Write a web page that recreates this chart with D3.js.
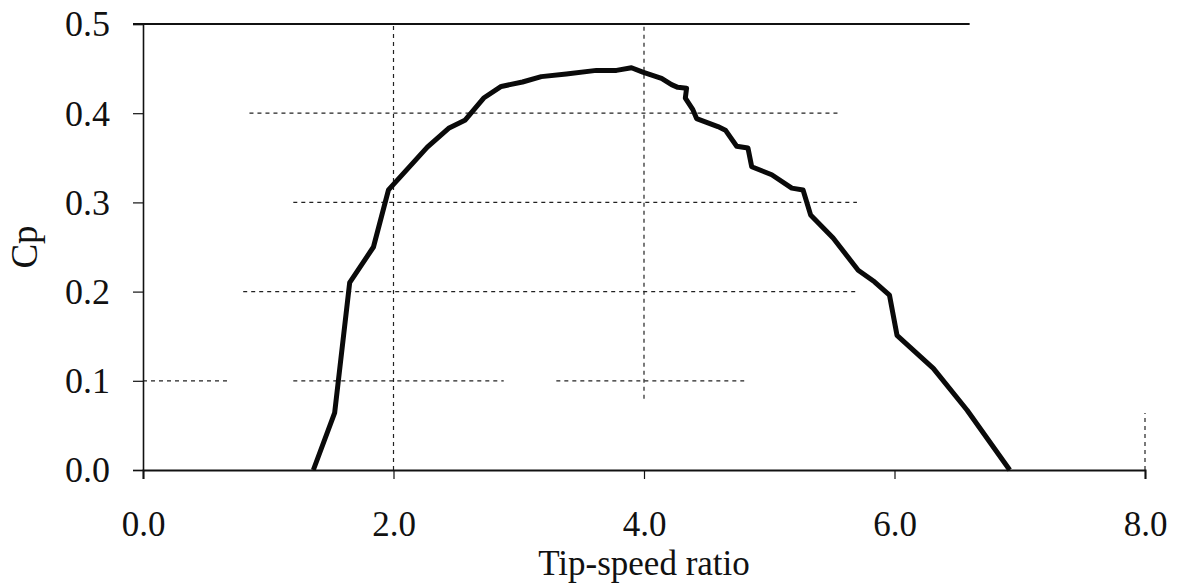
<!DOCTYPE html>
<html>
<head>
<meta charset="utf-8">
<script src="https://cdn.jsdelivr.net/npm/d3@7"></script>
<style>
    body { margin: 0; background: #fff; }
    svg text { font-family: "Liberation Serif", "Times New Roman", serif; fill: #111; }
</style>
</head>
<body>
<svg id="chart" width="1182" height="583"></svg>
<script>
// tip-speed ratio vs Cp
const tsr = [1.36, 1.53, 1.65, 1.84, 1.96, 2.27, 2.44, 2.57, 2.72, 2.86, 3.03, 3.18, 3.38, 3.62, 3.78, 3.90,
    3.99, 4.14, 4.22, 4.27, 4.34, 4.33, 4.39, 4.42, 4.59, 4.65, 4.74, 4.83, 4.86, 5.02, 5.18, 5.27,
    5.33, 5.51, 5.71, 5.84, 5.96, 6.02, 6.31, 6.58, 6.92];
const cp = [0.000, 0.064, 0.210, 0.250, 0.314, 0.362, 0.383, 0.392, 0.417, 0.430, 0.435, 0.441, 0.444, 0.448, 0.448, 0.451,
    0.446, 0.439, 0.432, 0.429, 0.428, 0.417, 0.404, 0.394, 0.385, 0.381, 0.363, 0.361, 0.340, 0.331, 0.316, 0.314,
    0.286, 0.260, 0.224, 0.211, 0.196, 0.151, 0.114, 0.067, 0.000];

const xTicks = [0, 2, 4, 6, 8];
const yTicks = [0, 0.1, 0.2, 0.3, 0.4, 0.5];

// the gridlines only survive in pieces in the scan
const hGrid = [
    { y: 0.1, from: 0.0, to: 0.7 },
    { y: 0.1, from: 1.2, to: 2.88 },
    { y: 0.1, from: 3.3, to: 4.8 },
    { y: 0.2, from: 0.8, to: 5.7 },
    { y: 0.3, from: 1.2, to: 5.7 },
    { y: 0.4, from: 0.85, to: 5.56 }
];
const vGrid = [
    { x: 2, from: 0, to: 0.5 },
    { x: 4, from: 0.08, to: 0.5 },
    { x: 8, from: 0, to: 0.064 }
];

const svg = d3.select("#chart");
const margin = { top: 24, right: 37, bottom: 113, left: 143 };
const width = 1182 - margin.left - margin.right;
const height = 583 - margin.top - margin.bottom;

const x = d3.scaleLinear().domain([0, 8]).range([0, width]);
const y = d3.scaleLinear().domain([0, 0.5]).range([height, 0]);

const g = svg.append("g").attr("transform", `translate(${margin.left},${margin.top})`);

const grid = g.append("g")
    .attr("stroke", "#222")
    .attr("stroke-width", 1.2)
    .attr("stroke-dasharray", "4,4");

grid.selectAll(".hg")
    .data(hGrid)
    .enter().append("line")
    .attr("x1", d => x(d.from))
    .attr("x2", d => x(d.to))
    .attr("y1", d => y(d.y))
    .attr("y2", d => y(d.y));

grid.selectAll(".vg")
    .data(vGrid)
    .enter().append("line")
    .attr("x1", d => x(d.x))
    .attr("x2", d => x(d.x))
    .attr("y1", d => y(d.from))
    .attr("y2", d => y(d.to));

// top border, fades out on the right in the original
g.append("line")
    .attr("x1", -10).attr("x2", x(6.6))
    .attr("y1", y(0.5)).attr("y2", y(0.5))
    .attr("stroke", "#111").attr("stroke-width", 2);

const xAxis = g.append("g")
    .attr("transform", `translate(0,${height})`)
    .call(d3.axisBottom(x).tickValues(xTicks).tickSize(9).tickFormat(d3.format(".1f")));
xAxis.select(".domain").attr("stroke", "#111").attr("stroke-width", 2);
xAxis.selectAll(".tick line").attr("stroke", "#111").attr("stroke-width", 1.2);
xAxis.selectAll(".tick text")
    .attr("y", 66).attr("dy", 0)
    .style("font-size", "35px");

const yAxis = g.append("g")
    .call(d3.axisLeft(y).tickValues(yTicks).tickSize(10).tickPadding(23).tickFormat(d3.format(".1f")));
yAxis.select(".domain").attr("stroke", "#111").attr("stroke-width", 1.6);
yAxis.selectAll(".tick line").attr("stroke", "#111").attr("stroke-width", 1.2);
yAxis.selectAll(".tick text")
    .attr("dy", "0.33em")
    .style("font-size", "36px");

const line = d3.line()
    .x((d, i) => x(tsr[i]))
    .y(d => y(d));

g.append("path")
    .datum(cp)
    .attr("fill", "none")
    .attr("stroke", "#0a0a0a")
    .attr("stroke-width", 5)
    .attr("stroke-linejoin", "round")
    .attr("d", line);

svg.append("text")
    .attr("x", margin.left + width / 2)
    .attr("y", 575)
    .attr("text-anchor", "middle")
    .style("font-size", "35px")
    .text("Tip-speed ratio");

svg.append("text")
    .attr("transform", `translate(37,${margin.top + height / 2}) rotate(-90)`)
    .attr("text-anchor", "middle")
    .style("font-size", "37px")
    .text("Cp");
</script>
</body>
</html>
